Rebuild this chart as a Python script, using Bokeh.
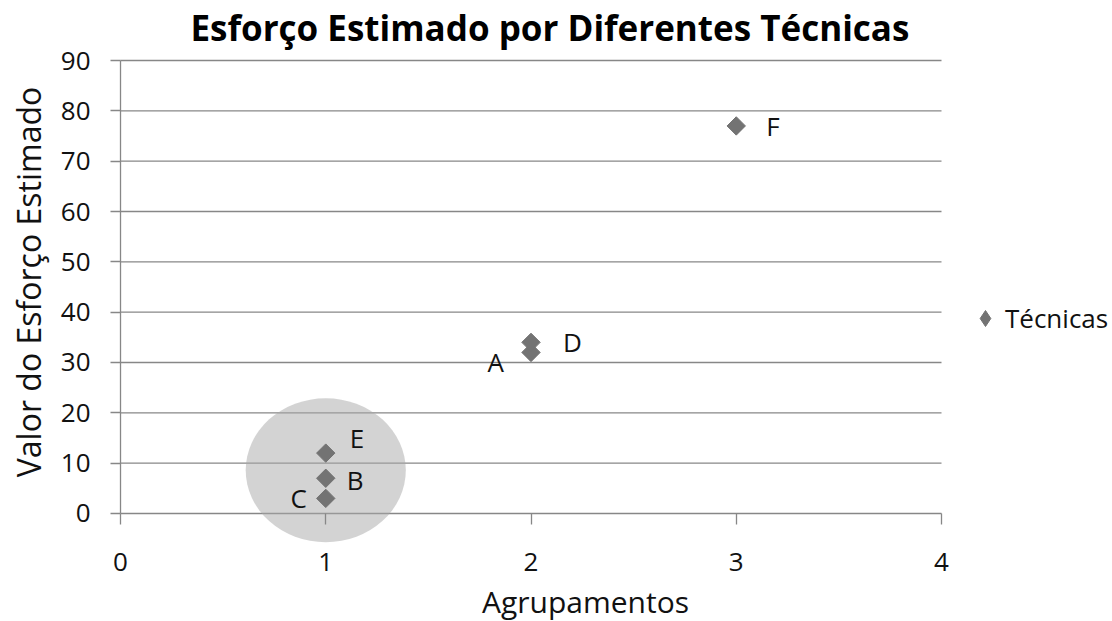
import math
from bokeh.plotting import figure
from bokeh.models import Range1d, FixedTicker, Legend, LegendItem, ColumnDataSource
from bokeh.core.properties import value
from bokeh.embed import file_html
from bokeh.resources import INLINE

# ---- data ----
techniques = ["A", "B", "C", "D", "E", "F"]
groups = [2, 1, 1, 2, 1, 3]
efforts = [32, 7, 3, 34, 12, 77]

# highlighted cluster (ellipse around group 1)
cluster_x = [1.0]
cluster_y = [8.6]
cluster_w = [0.78]
cluster_h = [28.6]

x_ticks = [0, 1, 2, 3, 4]
y_ticks = [0, 10, 20, 30, 40, 50, 60, 70, 80, 90]

title_text = "Esforço Estimado por Diferentes Técnicas"
x_title = "Agrupamentos"
y_title = "Valor do Esforço Estimado"
series_name = "Técnicas"

# label placement (screen px)
label_dx = [-27, 21, -19, 32, 24, 30]
label_dy = [10, 2, 0, 0, -15, 0]
label_align = ["right", "left", "right", "left", "left", "left"]

FONT = "Open Sans"
GRID = "#878787"
PT = "#737373"
TXT = "#111111"

src = ColumnDataSource(dict(x=groups, y=efforts, t=techniques,
                            dx=label_dx, dy=label_dy, al=label_align))

# frame covers the whole plot below the title; axes are pinned at x=0 / y=0
p = figure(frame_width=1112, frame_height=571,
           x_range=Range1d(-0.5847, 4.8331), y_range=Range1d(-21.46, 91.99),
           output_backend="svg", toolbar_location=None,
           min_border_left=0, min_border_right=0, min_border_top=50, min_border_bottom=0)

p.outline_line_color = None
p.background_fill_color = "white"
p.border_fill_color = "white"

p.title.text = title_text
p.title.text_font = FONT
p.title.text_font_style = "bold"
p.title.text_font_size = "35px"
p.title.text_color = "#000000"
p.title.align = "left"
p.title.offset = 190
p.title.standoff = 0

# axes
xa = p.xaxis[0]
xa.fixed_location = 0
xa.ticker = FixedTicker(ticks=x_ticks)
xa.bounds = (0, 4.53)
xa.axis_line_color = None
ya = p.yaxis[0]
ya.fixed_location = 0
ya.ticker = FixedTicker(ticks=y_ticks)
ya.bounds = (0, 97)
ya.axis_line_color = None
for ax in (xa, ya):
    ax.major_tick_line_color = GRID
    ax.major_tick_line_width = 1.3
    ax.major_tick_in = 0
    ax.minor_tick_line_color = None
    ax.major_label_text_font = FONT
    ax.major_label_text_font_size = "26px"
    ax.major_label_text_color = TXT
    ax.axis_label_text_font_style = "normal"
    ax.axis_label_text_font = FONT
    ax.axis_label_text_color = TXT
xa.axis_label_text_font_size = "30px"
ya.axis_label_text_font_size = "32px"
xa.major_tick_out = 11
ya.major_tick_out = 10
xa.axis_label = x_title
xa.major_label_standoff = 29
xa.axis_label_standoff = 6
ya.axis_label = y_title
ya.major_label_standoff = 20
ya.axis_label_standoff = 8

p.xgrid.visible = False
p.ygrid.visible = False

# horizontal gridlines between the x ticks' ends
p.segment(x0=x_ticks[0], x1=x_ticks[-1], y0=y_ticks, y1=y_ticks,
          line_color=GRID, line_width=1.3, level="underlay")
# vertical axis line from first to last y tick
p.segment(x0=[x_ticks[0]], x1=[x_ticks[0]], y0=[y_ticks[0]], y1=[y_ticks[-1]],
          line_color=GRID, line_width=1.3, level="underlay")

# cluster ellipse
p.ellipse(x=cluster_x, y=cluster_y, width=cluster_w, height=cluster_h,
          fill_color="#a8a8a8", fill_alpha=0.5, line_color=None)

pts = p.scatter(x="x", y="y", source=src, marker="square", angle=math.pi / 4,
                size=13, fill_color=PT, line_color=PT)

# legend swatch (a non-drawn point; only its legend glyph is shown)
swatch = p.scatter(x=[float("nan")], y=[float("nan")], marker="diamond", size=13,
                   fill_color=PT, line_color=PT)

p.text(x="x", y="y", text="t", source=src, x_offset="dx", y_offset="dy",
       text_align="al", text_baseline="middle", text_font=value(FONT),
       text_font_size="26px", text_color=TXT)

legend = Legend(items=[LegendItem(label=series_name, renderers=[swatch])],
                location=(965, 283), border_line_color=None,
                label_text_font=FONT, label_text_font_size="26px",
                label_text_color=TXT, glyph_width=40, glyph_height=40,
                label_standoff=0, label_height=40,
                padding=0, margin=0, background_fill_alpha=0)
p.add_layout(legend)

open("out.html", "w").write(file_html(p, INLINE))
